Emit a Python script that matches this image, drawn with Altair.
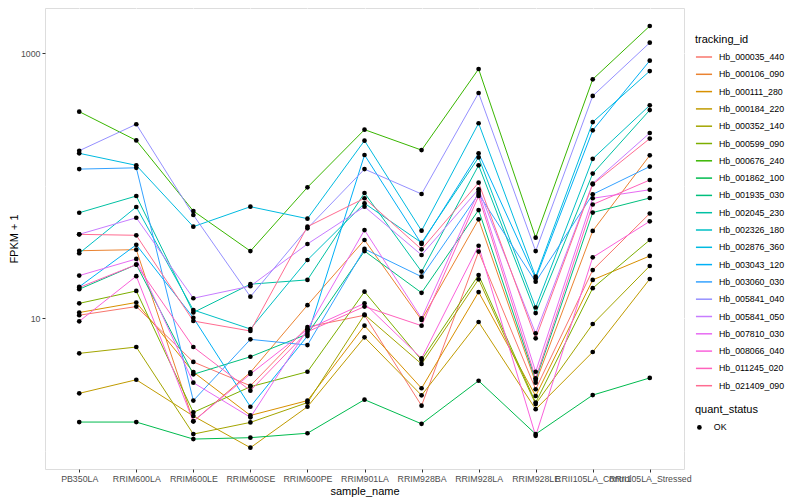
import altair as alt
import pandas as pd

samples = ["PB350LA", "RRIM600LA", "RRIM600LE", "RRIM600SE", "RRIM600PE",
           "RRIM901LA", "RRIM928BA", "RRIM928LA", "RRIM928LE",
           "RRII105LA_Control", "RRII105LA_Stressed"]

# FPKM + 1 for each gene, in the order of `samples`
hb_000035_440 = [10.5, 12.2, 4.66, 3.08, 8.55, 10.5, 2.18, 31.7, 2.90, 23.0, 61.5]
hb_000106_090 = [32.2, 32.8, 1.66, 3.89, 12.5, 38.8, 9.66, 55.6, 3.25, 45.4, 169]
hb_000111_280 = [11.0, 13.1, 3.91, 1.84, 2.38, 8.75, 2.95, 15.7, 2.58, 19.4, 29.4]
hb_000184_220 = [2.70, 3.42, 1.82, 1.05, 2.14, 7.15, 2.61, 9.33, 2.05, 5.54, 19.7]
hb_000352_140 = [5.41, 6.04, 1.33, 1.63, 2.30, 10.6, 4.50, 19.6, 2.24, 9.01, 24.7]
hb_000599_090 = [12.9, 16.0, 1.94, 3.03, 3.93, 15.8, 4.82, 21.1, 2.30, 16.8, 38.8]
hb_000676_240 = [361, 219, 64.2, 32.0, 96.9, 264, 185, 757, 40.4, 633, 1599]
hb_001862_100 = [1.64, 1.64, 1.22, 1.25, 1.35, 2.42, 1.59, 3.36, 1.33, 2.62, 3.53]
hb_001935_030 = [16.5, 25.3, 3.76, 5.10, 7.57, 32.0, 15.5, 65.3, 3.40, 62.5, 80.5]
hb_002045_230 = [62.3, 83.3, 11.0, 18.0, 19.4, 87.8, 22.4, 142, 10.9, 123, 371]
hb_002326_180 = [30.8, 68.8, 11.5, 8.26, 27.4, 73.4, 37.0, 163, 12.0, 159, 403]
hb_002876_360 = [175, 142, 48.9, 69.2, 56.2, 218, 45.6, 295, 20.5, 301, 731]
hb_003043_120 = [17.2, 35.7, 10.05, 2.14, 7.31, 170, 36.2, 175, 19.9, 261, 875]
hb_003060_030 = [133, 136, 2.38, 6.90, 6.25, 33.2, 20.5, 86.3, 18.8, 85.8, 139]
hb_005841_040 = [183, 290, 59.9, 14.5, 47.5, 133, 86.3, 499, 32.0, 474, 1196]
hb_005841_050 = [42.8, 57.1, 14.1, 17.4, 36.2, 69.2, 29.9, 93.6, 7.66, 103.5, 249]
hb_007810_030 = [20.9, 27.9, 3.25, 1.78, 8.22, 46.1, 9.95, 89.8, 3.93, 80.1, 92.9]
hb_008066_040 = [9.44, 20.7, 1.66, 3.78, 8.22, 12.9, 4.96, 35.1, 1.29, 28.7, 53.7]
hb_011245_020 = [17.0, 25.3, 6.04, 2.83, 7.88, 12.2, 8.75, 83.3, 3.51, 71.9, 110]
hb_021409_090 = [42.8, 42.1, 9.49, 7.98, 48.9, 80.1, 33.0, 105, 7.03, 102, 226]

names = ["Hb_000035_440", "Hb_000106_090", "Hb_000111_280", "Hb_000184_220",
         "Hb_000352_140", "Hb_000599_090", "Hb_000676_240", "Hb_001862_100",
         "Hb_001935_030", "Hb_002045_230", "Hb_002326_180", "Hb_002876_360",
         "Hb_003043_120", "Hb_003060_030", "Hb_005841_040", "Hb_005841_050",
         "Hb_007810_030", "Hb_008066_040", "Hb_011245_020", "Hb_021409_090"]
series = [hb_000035_440, hb_000106_090, hb_000111_280, hb_000184_220,
          hb_000352_140, hb_000599_090, hb_000676_240, hb_001862_100,
          hb_001935_030, hb_002045_230, hb_002326_180, hb_002876_360,
          hb_003043_120, hb_003060_030, hb_005841_040, hb_005841_050,
          hb_007810_030, hb_008066_040, hb_011245_020, hb_021409_090]
colors = ["#F8766D", "#EA8331", "#D89000", "#C09B00", "#A3A500", "#7CAE00",
          "#39B600", "#00BB4E", "#00BF7D", "#00C1A3", "#00BFC4", "#00BAE0",
          "#00B0F6", "#35A2FF", "#9590FF", "#C77CFF", "#E76BF3", "#FA62DB",
          "#FF62BC", "#FF6C91"]

rows = []
for name, vals in zip(names, series):
    for s, v in zip(samples, vals):
        rows.append({"tracking_id": name, "sample_name": s, "fpkm1": v,
                     "quant_status": "OK"})
df = pd.DataFrame(rows)

FONT = "Liberation Sans"
minor = "datum.value == 1 || datum.value == 100"

x_enc = alt.X("sample_name:N", sort=samples, title="sample_name",
              scale=alt.Scale(type="point", padding=0.6),
              axis=alt.Axis(labelAngle=0, labelFontSize=8.8, labelColor="#4D4D4D",
                            tickColor="#333333", tickSize=3, labelPadding=2,
                            domain=False, grid=True, gridColor="white", gridWidth=1,
                            titleFontSize=11, titleColor="black",
                            titleFontWeight="normal", titlePadding=3))
y_enc = alt.Y("fpkm1:Q", title="FPKM + 1",
              scale=alt.Scale(type="log", domain=[0.7253, 2186], nice=False),
              axis=alt.Axis(values=[1, 10, 100, 1000], format="d",
                            labelExpr="datum.value == 10 || datum.value == 1000 ? datum.label : ''",
                            grid=True, gridColor="white",
                            gridWidth={"condition": {"test": minor, "value": 0.5}, "value": 1},
                            tickOpacity={"condition": {"test": minor, "value": 0}, "value": 1},
                            tickColor="#333333", tickSize=3, labelPadding=2,
                            domain=False, labelFontSize=8.8, labelColor="#4D4D4D",
                            titleFontSize=11, titleColor="black",
                            titleFontWeight="normal", titlePadding=1))

lines = alt.Chart(df).mark_line(strokeWidth=1).encode(
    x=x_enc, y=y_enc,
    color=alt.Color("tracking_id:N",
                    scale=alt.Scale(domain=names, range=colors),
                    legend=alt.Legend(title="tracking_id", orient="none",
                                      legendX=650, legendY=26,
                                      symbolType="stroke", symbolStrokeWidth=1.5,
                                      symbolSize=260, labelFontSize=8.8,
                                      labelColor="black", titleFontSize=11,
                                      titleFontWeight="normal", titleColor="black",
                                      rowPadding=3.3, titlePadding=3, labelOffset=6)),
)

points = alt.Chart(df).mark_point(filled=True, size=22, opacity=1).encode(
    x=x_enc, y=y_enc,
    color=alt.value("black"),
    shape=alt.Shape("quant_status:N", scale=alt.Scale(range=["circle"]),
                    legend=alt.Legend(title="quant_status", orient="none",
                                      legendX=650, legendY=396,
                                      symbolFillColor="black", symbolStrokeColor="black",
                                      symbolSize=22, labelFontSize=8.8,
                                      labelColor="black", titleFontSize=11,
                                      titleFontWeight="normal", titleColor="black",
                                      titlePadding=8, labelOffset=10)),
)

chart = (lines + points).properties(
    width=639, height=461,
    padding={"left": 37, "top": 0, "right": 108, "bottom": 28},
    autosize=alt.AutoSizeParams(type="none"),
    background="white",
).configure_view(fill="#EBEBEB", stroke="transparent").configure(font=FONT)

chart.save("out.html", embed_options={"renderer": "svg", "actions": False})
